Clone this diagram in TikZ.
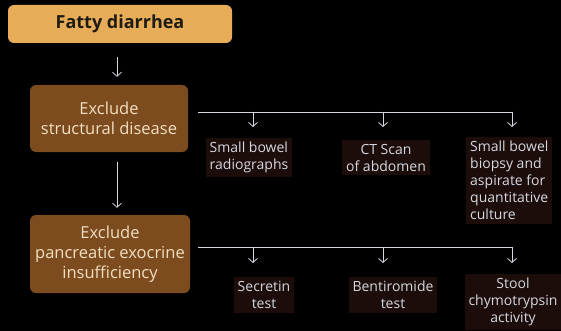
\documentclass[tikz,border=0pt]{standalone}
\usepackage{fontspec}
\setmainfont{Open Sans}
\usetikzlibrary{positioning,arrows.meta}
\definecolor{gold}{HTML}{E6AC58}
\definecolor{bark}{HTML}{7C4C1E}
\definecolor{cream}{HTML}{F2DFC2}
\definecolor{ink}{HTML}{1E1A14}
\definecolor{wire}{HTML}{D6D8E0}
\definecolor{shade}{HTML}{1C0D0B}

\begin{document}
\begin{tikzpicture}[x=1pt,y=-1pt,
    hdrbox/.style={fill=gold, rounded corners=6pt, minimum width=224pt, minimum height=38pt,
      text=ink, font=\fontsize{18}{20}\selectfont\bfseries},
    stagebox/.style={fill=bark, rounded corners=6pt, minimum width=158pt, text=cream,
      align=center, font=\fontsize{16.5}{20}\selectfont},
    testbox/.style={fill=shade, text=wire, inner sep=4pt, font=\fontsize{14}{17}\selectfont},
    wireline/.style={draw=wire, line width=0.8pt},
    arr/.style={wireline, -{Straight Barb[length=4pt,width=9pt]}}]
    \fill[black] (0,0) rectangle (561,331);
    \useasboundingbox (0,0) rectangle (561,331);

    \node[hdrbox] (fatty) at (120,24) {Fatty diarrhea};
    \node[stagebox, minimum height=67pt] (structural) at (109,118.5) {Exclude\\structural disease};
    \node[stagebox, minimum width=160pt, minimum height=78pt] (pancreatic) at (110,254)
      {Exclude\\pancreatic exocrine\\insufficiency};

    \draw[arr, shorten <=14pt, shorten >=8pt] ([xshift=-3pt]fatty.south) -- ([xshift=-3pt]fatty.south |- structural.north);
    \draw[arr, shorten <=10pt, shorten >=7pt] ([xshift=8pt]structural.south) -- ([xshift=8pt]structural.south |- pancreatic.north);

    \node[testbox, align=left] (radio) at (249,157.5) {Small bowel\\radiographs};
    \node[testbox, align=center] (ctscan) at (386,157.5) {CT Scan\\of abdomen};
    \node[testbox, align=left, anchor=north west] (biopsy) at (466,137) {Small bowel\\biopsy and\\aspirate for\\quantitative\\culture};

    \node[testbox, align=center] (secretin) at (264,295) {Secretin\\test};
    \node[testbox, align=center] (bentiro) at (393,295) {Bentiromide\\test};
    \node[testbox, align=center] (stool) at (513,302) {Stool\\chymotrypsin\\activity};

    \coordinate (split1) at (198,112);
    \coordinate (k1a) at (253,112);
    \coordinate (k1b) at (383,112);
    \coordinate (k1c) at (512,112);
    \draw[wireline] (split1) -- (k1c);
    \draw[arr] (k1a) -- (k1a |- 0,127);
    \draw[arr] (k1b) -- (k1b |- 0,127);
    \draw[arr] (k1c) -- (k1c |- 0,127);

    \coordinate (split2) at (198,247);
    \coordinate (k2a) at (253,247);
    \coordinate (k2b) at (383,247);
    \coordinate (k2c) at (512,247);
    \draw[wireline] (split2) -- (k2c);
    \draw[arr] (k2a) -- (k2a |- 0,263);
    \draw[arr] (k2b) -- (k2b |- 0,263);
    \draw[arr] (k2c) -- (k2c |- 0,263);
  \end{tikzpicture}
\end{document}
